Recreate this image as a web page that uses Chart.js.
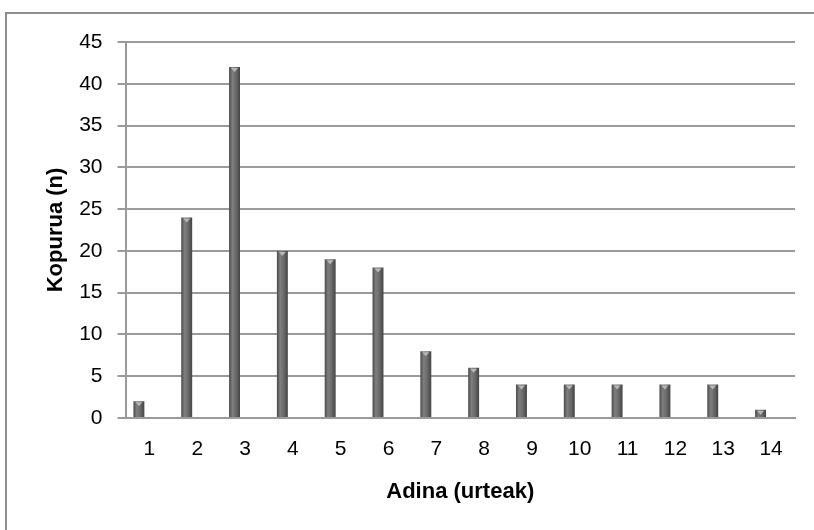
<!DOCTYPE html>
<html>
<head>
<meta charset="utf-8">
<script src="https://cdn.jsdelivr.net/npm/chart.js@4.4.0/dist/chart.umd.min.js"></script>
<style>
  html, body { margin: 0; padding: 0; background: #fff; overflow: hidden; }
  #frame { position: absolute; left: 5px; top: 12px; width: 900px; height: 600px;
           border-left: 2px solid #8e8e8e; border-top: 2px solid #8e8e8e; }
  #wrap { position: absolute; left: 0; top: 0; width: 814px; height: 530px; }
</style>
</head>
<body>
<div id="frame"></div>
<div id="wrap"><canvas id="myChart"></canvas></div>
<script>
const labels = ['1', '2', '3', '4', '5', '6', '7', '8', '9', '10', '11', '12', '13', '14'];
const counts = [2, 24, 42, 20, 19, 18, 8, 6, 4, 4, 4, 4, 4, 1];
const emptySeries = [null, null, null, null, null, null, null, null, null, null, null, null, null, null];

const gridGray = '#9a9a9a';
const fontFamily = '"Liberation Sans", Arial, sans-serif';

// cylinder-like shading across each bar
const barFill = (ctx) => {
  const el = ctx.element;
  if (!el || el.x == null || el.width == null) return '#6a6a6a';
  const g = ctx.chart.ctx.createLinearGradient(el.x - el.width / 2, 0, el.x + el.width / 2, 0);
  g.addColorStop(0, '#4a4a4a');
  g.addColorStop(0.3, '#7e7e7e');
  g.addColorStop(0.6, '#6c6c6c');
  g.addColorStop(1, '#444444');
  return g;
};

// light bevel cap on top of each bar, placed from the bar elements
const barCaps = {
  id: 'barCaps',
  afterDatasetsDraw(chart) {
    const c = chart.ctx;
    chart.getDatasetMeta(0).data.forEach((bar) => {
      const half = bar.width / 2;
      c.save();
      c.fillStyle = '#b8b8b8';
      c.beginPath();
      c.moveTo(bar.x - half + 2, bar.y + 1);
      c.lineTo(bar.x + half - 2, bar.y + 1);
      c.lineTo(bar.x, bar.y + 5);
      c.closePath();
      c.fill();
      c.restore();
    });
  }
};

const data = {
  labels: labels,
  datasets: [{
    label: 'Kopurua',
    data: counts,
    backgroundColor: barFill,
    borderWidth: 0,
    categoryPercentage: 0.88,
    barPercentage: 0.52,
  }, {
    label: '',
    data: emptySeries,
    categoryPercentage: 0.88,
    barPercentage: 0.52,
  }]
};

const config = {
  type: 'bar',
  data,
  plugins: [barCaps],
  options: {
    responsive: false,
    animation: false,
    layout: { padding: { left: 43, top: 42, right: 19, bottom: 6 } },
    plugins: { legend: { display: false }, tooltip: { enabled: false } },
    scales: {
      x: {
        afterFit: (scale) => { scale.height = 106; },
        grid: { display: false, drawTicks: false },
        border: { display: true, color: gridGray, width: 2 },
        ticks: { color: '#000', padding: 19, font: { family: fontFamily, size: 21 } },
        title: { display: true, text: 'Adina (urteak)', color: '#000',
                 padding: { top: 0, bottom: 19 },
                 font: { family: fontFamily, size: 22, weight: 'bold' } }
      },
      y: {
        afterFit: (scale) => { scale.width = 82.5; },
        min: 0, max: 45,
        grid: { color: gridGray, lineWidth: 2, tickLength: 8, tickColor: gridGray },
        border: { display: true, color: gridGray, width: 2 },
        ticks: { stepSize: 5, color: '#000', padding: 15, font: { family: fontFamily, size: 21 } },
        title: { display: true, text: 'Kopurua (n)', color: '#000',
                 padding: { top: 0, bottom: 10 },
                 font: { family: fontFamily, size: 22, weight: 'bold' } }
      }
    }
  }
};

const canvas = document.getElementById('myChart');
canvas.width = 814;
canvas.height = 530;
const chart = new Chart(canvas, config);
chart.update();
</script>
</body>
</html>
